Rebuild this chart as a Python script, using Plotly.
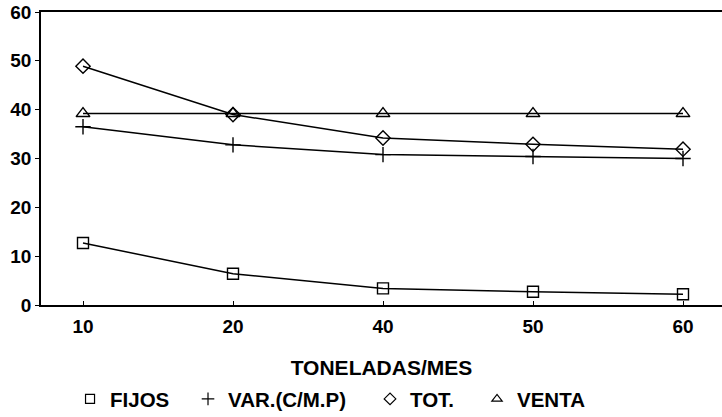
import plotly.graph_objects as go

categories = ["10", "20", "40", "50", "60"]
fijos = [12.7, 6.4, 3.4, 2.7, 2.2]
var_cmp = [36.5, 32.8, 30.8, 30.4, 30.0]
tot = [48.9, 39.0, 34.2, 32.9, 31.9]
venta = [39.2, 39.2, 39.2, 39.2, 39.2]

names = ["FIJOS", "VAR.(C/M.P)", "TOT.", "VENTA"]
y_ticks = [0, 10, 20, 30, 40, 50, 60]

fam = "Liberation Sans, Arial, sans-serif"
tick_font = dict(family=fam, size=19, color="black", weight="bold")
title_font = dict(family=fam, size=21, color="black", weight="bold")
legend_font = dict(family=fam, size=20.5, color="black", weight="bold")

fig = go.Figure()
series = [fijos, var_cmp, tot, venta]
symbols = ["square-open", "cross-thin-open", "diamond-open", "triangle-up-open"]
sizes = [11, 11, 11, 12]
legend_ids = ["legend", "legend2", "legend3", "legend4"]
legend_x = [0.097, 0.2604, 0.5125, 0.6607]

for name, vals, sym, sz, lid in zip(names, series, symbols, sizes, legend_ids):
    fig.add_trace(go.Scatter(
        x=categories, y=vals, name=name, mode="lines+markers", showlegend=False,
        line=dict(color="black", width=1.5),
        marker=dict(symbol=sym, size=sz, color="black", line=dict(color="black", width=1.4)),
    ))
    # legend entry: marker only
    fig.add_trace(go.Scatter(
        x=[None], y=[None], name=name, mode="markers", legend=lid, showlegend=True,
        marker=dict(symbol=sym, size=9, color="black", line=dict(color="black", width=1.2)),
    ))

leg_common = dict(orientation="h", xref="container", yref="container",
                  xanchor="left", yanchor="middle", y=0.043,
                  font=legend_font, itemsizing="trace", bgcolor="rgba(0,0,0,0)")
layout_legends = {}
for lid, lx in zip(legend_ids, legend_x):
    layout_legends[lid] = dict(leg_common, x=lx)

fig.update_layout(
    width=722, height=417,
    margin=dict(l=41, r=0, t=12, b=112, autoexpand=False),
    paper_bgcolor="white", plot_bgcolor="white",
    font=tick_font,
    showlegend=True,
    xaxis=dict(type="category", range=[-0.28, 4.26], showgrid=False, zeroline=False,
               showline=True, linecolor="black", linewidth=1.5, mirror=True,
               ticks="inside", ticklen=4, tickcolor="black", automargin=False,
               tickfont=tick_font, ticklabelstandoff=3,
               title=dict(text="TONELADAS/MES", font=title_font, standoff=28)),
    yaxis=dict(range=[0, 60], tickvals=y_ticks, showgrid=False, zeroline=False,
               showline=True, linecolor="black", linewidth=1.5, automargin=False,
               ticks="outside", ticklen=4, tickcolor="black",
               tickfont=tick_font),
    **layout_legends,
)

fig.write_html("out.html", config={"displayModeBar": False},
               post_script="document.body.style.margin='0';")
